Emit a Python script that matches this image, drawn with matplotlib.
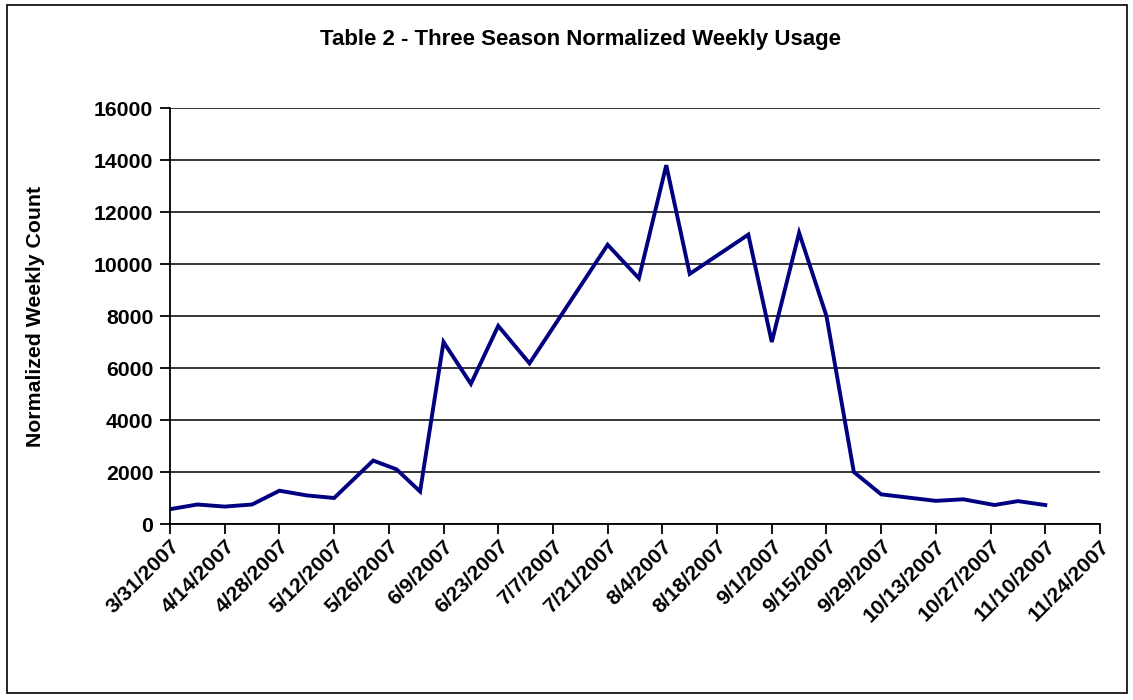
import matplotlib
matplotlib.use("Agg")
import matplotlib.pyplot as plt
import matplotlib.dates as mdates
from matplotlib.patches import Rectangle
from matplotlib.ticker import FuncFormatter, MultipleLocator
import pandas as pd

# Weekly usage observations
dates = ["2007-03-31", "2007-04-07", "2007-04-14", "2007-04-21", "2007-04-28",
         "2007-05-05", "2007-05-12", "2007-05-22", "2007-05-28", "2007-06-03",
         "2007-06-09", "2007-06-16", "2007-06-23", "2007-07-01", "2007-07-21",
         "2007-07-29", "2007-08-05", "2007-08-11", "2007-08-26", "2007-09-01",
         "2007-09-08", "2007-09-15", "2007-09-22", "2007-09-29", "2007-10-13",
         "2007-10-20", "2007-10-28", "2007-11-03", "2007-11-10"]
counts = [570, 750, 670, 750, 1280,
          1100, 1000, 2440, 2100, 1250,
          7000, 5390, 7620, 6180, 10740,
          9450, 13800, 9620, 11130, 7000,
          11200, 8000, 2000, 1140, 890,
          950, 730, 880, 730]

axis_start = "2007-03-31"
axis_end = "2007-11-24"
y_max = 16000
y_step = 2000

title = "Table 2 - Three Season Normalized Weekly Usage"
y_label = "Normalized Weekly Count"

plt.rcParams["font.family"] = ["Liberation Sans", "DejaVu Sans"]
plt.rcParams["font.weight"] = "bold"

W, H = 1133, 700
fig = plt.figure(figsize=(W / 100, H / 100), dpi=100)
fig.patch.set_facecolor("white")

# Chart border
fig.add_artist(Rectangle((7 / W, 1 - 693 / H), (1127 - 7) / W, (693 - 5) / H,
                         transform=fig.transFigure, fill=False,
                         edgecolor="black", linewidth=1.2))

left, right, top, bottom = 170, 1100, 108, 524
ax = fig.add_axes([left / W, 1 - bottom / H, (right - left) / W, (bottom - top) / H])

x = pd.to_datetime(dates)
ax.plot(x, counts, color="#000080", linewidth=2.8, solid_joinstyle="miter")

start = pd.Timestamp(axis_start)
end = pd.Timestamp(axis_end)
ax.set_xlim(start, end)
ax.set_ylim(0, y_max)

ticks = pd.date_range(start, end, freq="14D")
ax.set_xticks(ticks)
ax.xaxis.set_major_formatter(FuncFormatter(
    lambda v, pos: (lambda d: f"{d.month}/{d.day}/{d.year}")(mdates.num2date(v))))
ax.yaxis.set_major_locator(MultipleLocator(y_step))
ax.yaxis.set_major_formatter(FuncFormatter(lambda v, pos: f"{int(v)}"))

ax.grid(axis="y", color="black", linewidth=1.1)
ax.set_axisbelow(True)
for s in ("top", "right"):
    ax.spines[s].set_visible(False)
for s in ("left", "bottom"):
    ax.spines[s].set_linewidth(1.3)
    ax.spines[s].set_color("black")

fs = 15.3
ax.tick_params(axis="both", direction="out", length=7, width=1.3, colors="black")
ax.tick_params(axis="y", labelsize=fs, pad=5)
ax.tick_params(axis="x", labelsize=fs, pad=2)
for lbl in ax.get_xticklabels():
    lbl.set_rotation(45)
    lbl.set_ha("right")
    lbl.set_rotation_mode("anchor")
    lbl.set_fontweight("bold")
for lbl in ax.get_yticklabels():
    lbl.set_fontweight("bold")

ax.set_ylabel(y_label, fontsize=fs, fontweight="bold")
ax.yaxis.set_label_coords((45 - left) / (right - left), 0.5)
fig.text(580 / W, 1 - 40 / H, title, ha="center", va="center",
         fontsize=16, fontweight="bold")

fig.savefig("out.png", dpi=100, facecolor="white")
